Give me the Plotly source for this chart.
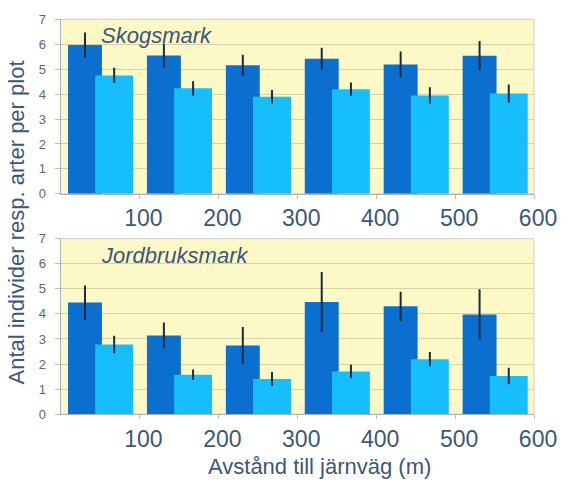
import plotly.graph_objects as go
from plotly.subplots import make_subplots

# Distance classes along the railway (m): each group spans 100 m
distance_start = [0, 100, 200, 300, 400, 500]
x_tick_values = [100, 200, 300, 400, 500, 600]

# Skogsmark (forest)
skog_individer = [5.97, 5.55, 5.16, 5.42, 5.19, 5.54]
skog_individer_err = [0.50, 0.48, 0.42, 0.44, 0.52, 0.59]
skog_arter = [4.75, 4.23, 3.89, 4.19, 3.94, 4.02]
skog_arter_err = [0.31, 0.29, 0.27, 0.27, 0.33, 0.36]

# Jordbruksmark (farmland)
jord_individer = [4.45, 3.14, 2.74, 4.47, 4.30, 3.98]
jord_individer_err = [0.68, 0.52, 0.74, 1.20, 0.58, 1.00]
jord_arter = [2.78, 1.57, 1.40, 1.70, 2.19, 1.52]
jord_arter_err = [0.35, 0.21, 0.28, 0.27, 0.29, 0.33]

panel_titles = ["Skogsmark", "Jordbruksmark"]

DARK = "#0a6fcf"
LIGHT = "#16bffc"
ERR = "#1c2a3c"
TEXT = "#3b5878"
BG = "#fdf9c6"

W, H = 582, 490
x_dom = [63 / W, 556 / W]
y_doms = [[1 - 192.7 / H, 1 - 12.7 / H], [1 - 420 / H, 1 - 239 / H]]

fig = make_subplots(rows=2, cols=1)

panels = [
    (skog_individer, skog_individer_err, skog_arter, skog_arter_err),
    (jord_individer, jord_individer_err, jord_arter, jord_arter_err),
]

for row, (ind, ind_err, art, art_err) in enumerate(panels, start=1):
    fig.add_trace(go.Bar(
        x=[d + 31 for d in distance_start], y=ind, width=43,
        marker=dict(color=DARK, line=dict(width=0)),
        error_y=dict(type="data", array=ind_err, color=ERR, thickness=2, width=0),
        showlegend=False,
    ), row=row, col=1)
    fig.add_trace(go.Bar(
        x=[d + 68 for d in distance_start], y=art, width=48,
        marker=dict(color=LIGHT, line=dict(width=0)),
        error_y=dict(type="data", array=art_err, color=ERR, thickness=2, width=0),
        showlegend=False,
    ), row=row, col=1)

fig.update_layout(
    width=W, height=H,
    margin=dict(l=0, r=0, t=0, b=0),
    paper_bgcolor="white",
    plot_bgcolor=BG,
    barmode="overlay",
    font=dict(family="Arial, Liberation Sans, sans-serif", color=TEXT),
)

for i, yd in enumerate(y_doms, start=1):
    xa = "xaxis" if i == 1 else f"xaxis{i}"
    ya = "yaxis" if i == 1 else f"yaxis{i}"
    fig.layout[xa].update(
        domain=x_dom, range=[0, 600], tickvals=x_tick_values,
        ticks="outside", ticklen=4, tickcolor="#b8bcc4",
        showline=True, linecolor="#aab2bf", linewidth=1,
        showgrid=False, zeroline=False, ticklabelshift=4,
        tickfont=dict(size=23, color=TEXT),
    )
    fig.layout[ya].update(
        domain=yd, range=[0, 7], dtick=1,
        ticks="outside", ticklen=5, tickcolor="#b8bcc4",
        showline=True, linecolor="#aab2bf", linewidth=1,
        showgrid=True, gridcolor="#d6d2a8", gridwidth=1,
        zeroline=False, ticklabelstandoff=6,
        tickfont=dict(size=13, color="#5c6878"),
    )
    # light frame along the top and right of each panel
    fig.add_shape(type="rect", xref="paper", yref="paper",
                  x0=x_dom[0], x1=x_dom[1], y0=yd[0], y1=yd[1],
                  line=dict(color="#c9d0d8", width=1), layer="below")
    fig.add_annotation(
        text=f"<i>{panel_titles[i - 1]}</i>", xref="paper", yref="paper",
        x=103 / W, y=yd[1] - 2 / H, xanchor="left", yanchor="top",
        showarrow=False, font=dict(size=22, color=TEXT),
    )

fig.add_annotation(
    text="Antal individer resp. arter per plot", xref="paper", yref="paper",
    x=17 / W, y=1 - 222 / H, textangle=-90, showarrow=False,
    xanchor="center", yanchor="middle", font=dict(size=22, color=TEXT),
)
fig.add_annotation(
    text="Avstånd till järnväg (m)", xref="paper", yref="paper",
    x=(217 + 448) / 2 / W, y=0, showarrow=False,
    xanchor="center", yanchor="bottom", yshift=1,
    font=dict(size=22, color=TEXT),
)

fig.write_html("out.html")
